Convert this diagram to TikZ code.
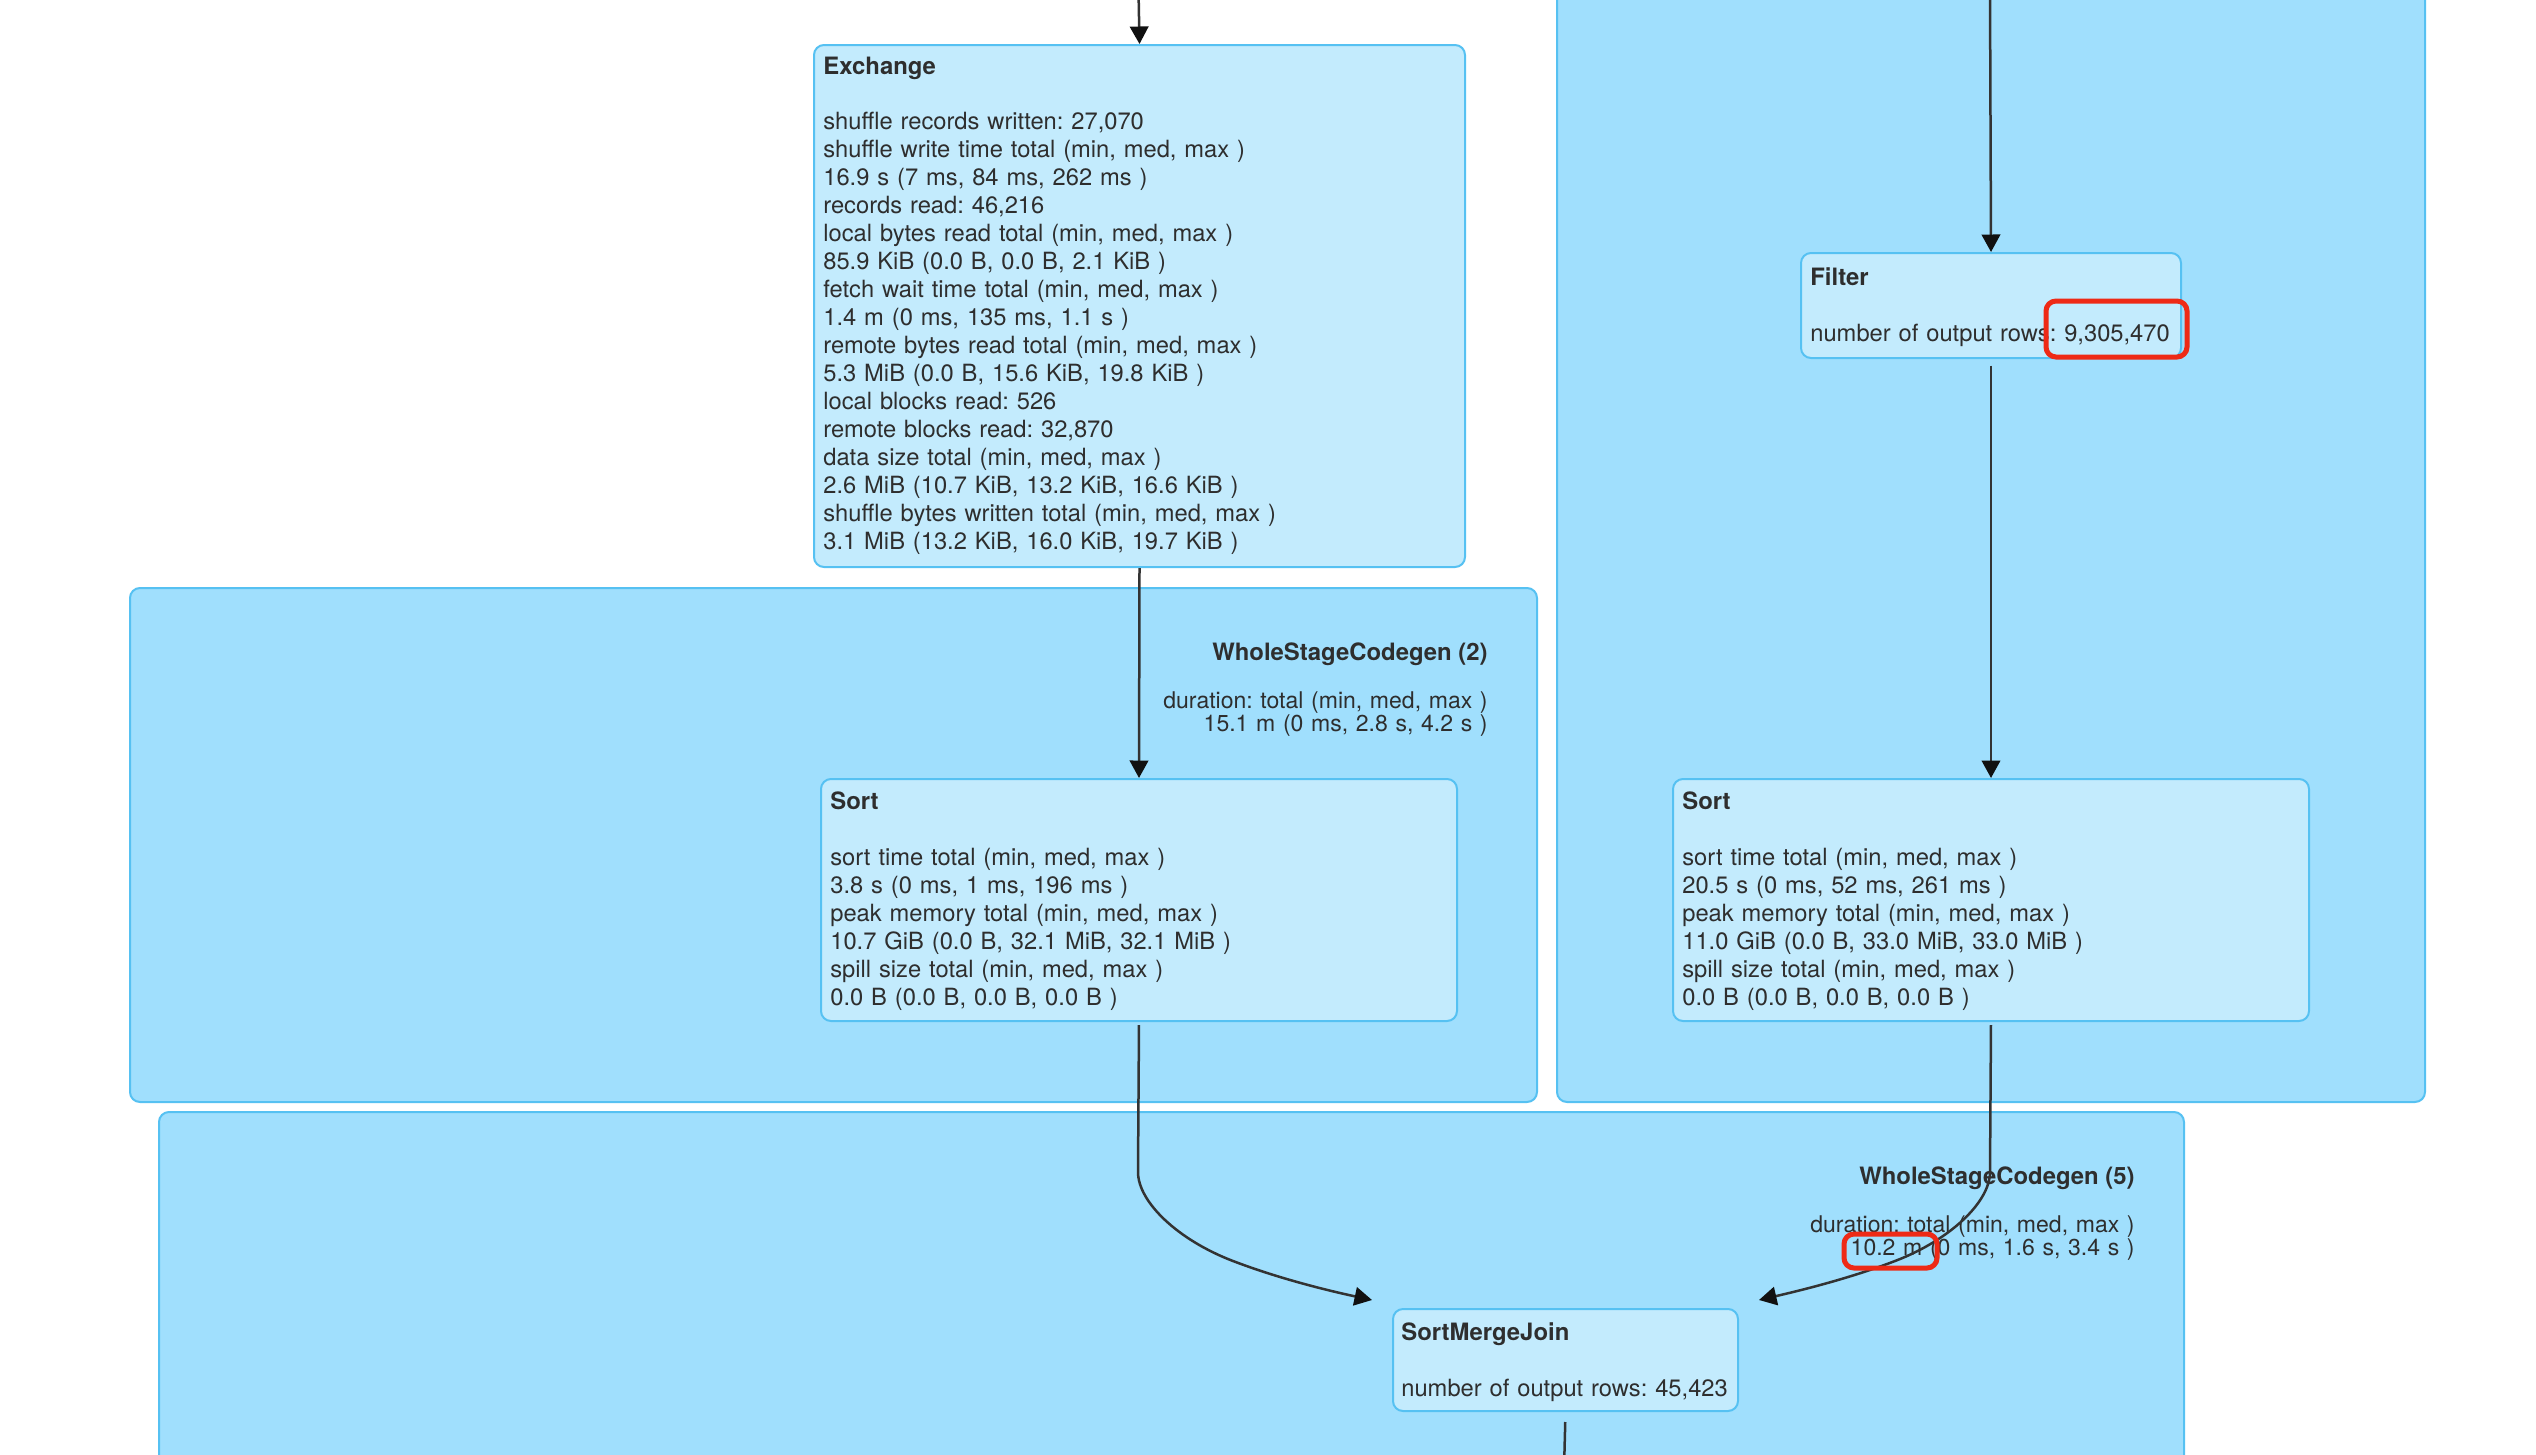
\documentclass[tikz,border=0pt]{standalone}
\usepackage{fontspec}
\setmainfont{TeX Gyre Heros}
\usetikzlibrary{arrows.meta,calc}
\definecolor{clfill}{HTML}{A0DFFD}
\definecolor{clline}{HTML}{56C1F2}
\definecolor{ndfill}{HTML}{C3EBFD}
\definecolor{txt}{HTML}{2E2E2E}
\definecolor{edgec}{HTML}{333333}
\definecolor{headc}{HTML}{111111}
\definecolor{hl}{HTML}{EE2A16}
\frenchspacing
\begin{document}
\begin{tikzpicture}[x=0.02cm,y=-0.02cm,
  cluster/.style={draw=clline, fill=clfill, line width=0.04cm, rounded corners=0.2cm, inner sep=0pt, anchor=north west},
  opbox/.style={draw=clline, fill=ndfill, line width=0.04cm, rounded corners=0.2cm, inner sep=0pt, anchor=north west},
  ttl/.style={anchor=base west, inner sep=0pt, text=txt, font=\fontsize{13.6}{15.94}\selectfont\bfseries},
  mtr/.style={anchor=base west, inner sep=0pt, text width=12cm, align=left, text=txt, font=\fontsize{13.5}{15.94}\selectfont\frenchspacing},
  cttl/.style={anchor=base east, inner sep=0pt, text=txt, font=\fontsize{13.6}{15.94}\selectfont\bfseries},
  cdur/.style={anchor=base east, inner sep=0pt, text width=9cm, align=right, text=txt, font=\fontsize{13.1}{13.04}\selectfont\frenchspacing},
  flow/.style={draw=edgec, line width=0.05cm, -{Triangle[length=0.35cm,width=0.37cm,color=headc,fill=headc]}},
  hlbox/.style={draw=hl, line width=0.1cm, rounded corners=0.2cm}
]
\useasboundingbox (0,0) rectangle (2536,1454);
\fill[white] (0,0) rectangle (2536,1454);
\clip (0,0) rectangle (2536,1454);

% clusters
\node[cluster, minimum width=1407*0.02cm, minimum height=514*0.02cm] (wsc2) at (129,587) {};
\node[cluster, minimum width=868*0.02cm, minimum height=1141*0.02cm] (wscr) at (1556,-40) {};
\node[cluster, minimum width=2025*0.02cm, minimum height=400*0.02cm] (wsc5) at (158,1111) {};

\node[cttl] (wsc2t) at (1488,660) {WholeStageCodegen (2)};
\node[cdur] (wsc2d) at (1488,708.5) {duration: total (min, med, max )\\15.1 m (0 ms, 2.8 s, 4.2 s )};
\node[cttl] (wsc5t) at (2135,1184) {WholeStageCodegen (5)};
\node[cdur] (wsc5d) at (2135,1232.5) {duration: total (min, med, max )\\10.2 m (0 ms, 1.6 s, 3.4 s )};

% operator boxes
\node[opbox, minimum width=651*0.02cm, minimum height=522*0.02cm] (ex) at (813,44) {};
\node[ttl] (ext) at (823,74.5) {Exchange};
\node[mtr] (exm) at (823,129.5) {shuffle records written: 27,070\\
shuffle write time total (min, med, max )\\
16.9 s (7 ms, 84 ms, 262 ms )\\
records read: 46,216\\
local bytes read total (min, med, max )\\
85.9 KiB (0.0 B, 0.0 B, 2.1 KiB )\\
fetch wait time total (min, med, max )\\
1.4 m (0 ms, 135 ms, 1.1 s )\\
remote bytes read total (min, med, max )\\
5.3 MiB (0.0 B, 15.6 KiB, 19.8 KiB )\\
local blocks read: 526\\
remote blocks read: 32,870\\
data size total (min, med, max )\\
2.6 MiB (10.7 KiB, 13.2 KiB, 16.6 KiB )\\
shuffle bytes written total (min, med, max )\\
3.1 MiB (13.2 KiB, 16.0 KiB, 19.7 KiB )};

\node[opbox, minimum width=380*0.02cm, minimum height=105*0.02cm] (fl) at (1800,252) {};
\node[ttl] (flt) at (1810,285.5) {Filter};
\node[mtr] (flm) at (1810,341.5) {number of output rows: 9,305,470};

\node[opbox, minimum width=636*0.02cm, minimum height=242*0.02cm] (sl) at (820,778) {};
\node[ttl] (slt) at (830,809.5) {Sort};
\node[mtr] (slm) at (830,865.5) {sort time total (min, med, max )\\
3.8 s (0 ms, 1 ms, 196 ms )\\
peak memory total (min, med, max )\\
10.7 GiB (0.0 B, 32.1 MiB, 32.1 MiB )\\
spill size total (min, med, max )\\
0.0 B (0.0 B, 0.0 B, 0.0 B )};

\node[opbox, minimum width=636*0.02cm, minimum height=242*0.02cm] (sr) at (1672,778) {};
\node[ttl] (srt) at (1682,809.5) {Sort};
\node[mtr] (srm) at (1682,865.5) {sort time total (min, med, max )\\
20.5 s (0 ms, 52 ms, 261 ms )\\
peak memory total (min, med, max )\\
11.0 GiB (0.0 B, 33.0 MiB, 33.0 MiB )\\
spill size total (min, med, max )\\
0.0 B (0.0 B, 0.0 B, 0.0 B )};

\node[opbox, minimum width=345*0.02cm, minimum height=102*0.02cm] (smj) at (1392,1308) {};
\node[ttl] (smjt) at (1401,1340.5) {SortMergeJoin};
\node[mtr] (smjm) at (1401,1396.5) {number of output rows: 45,423};

% connector ends
\coordinate (inA) at (1138.5,-10);
\coordinate (inB) at (1990,-10);
\coordinate (outC) at (1564,1470);
\coordinate (jl) at ($(smj.north west)+(-20,-8)$);
\coordinate (jr) at ($(smj.north east)+(20,-8)$);

% edges
\draw[flow] (inA) -- (ex.north);
\draw[flow] (ex.south) -- (sl.north);
\draw[flow] (inB) -- (fl.north);
\draw[flow, shorten <=0.13cm] (fl.south) -- (sr.north);
\draw[flow, shorten <=0.06cm] (sl.south) -- (1138,1172)
   .. controls (1138,1202) and (1178,1240) .. (1233,1261)
   .. controls (1280,1279) and (1330,1291) .. (jl);
\draw[flow, shorten <=0.06cm] (sr.south) -- (1990,1172)
   .. controls (1990,1202) and (1950,1240) .. (1895,1261)
   .. controls (1848,1279) and (1798,1291) .. (jr);
\draw[draw=edgec, line width=0.05cm, shorten <=0.2cm] (smj.south) -- (outC);

% highlight marks
\draw[hlbox] (2046,301) rectangle (2187,357);
\draw[hlbox] (1844,1234) rectangle (1937,1268);
\end{tikzpicture}
\end{document}
